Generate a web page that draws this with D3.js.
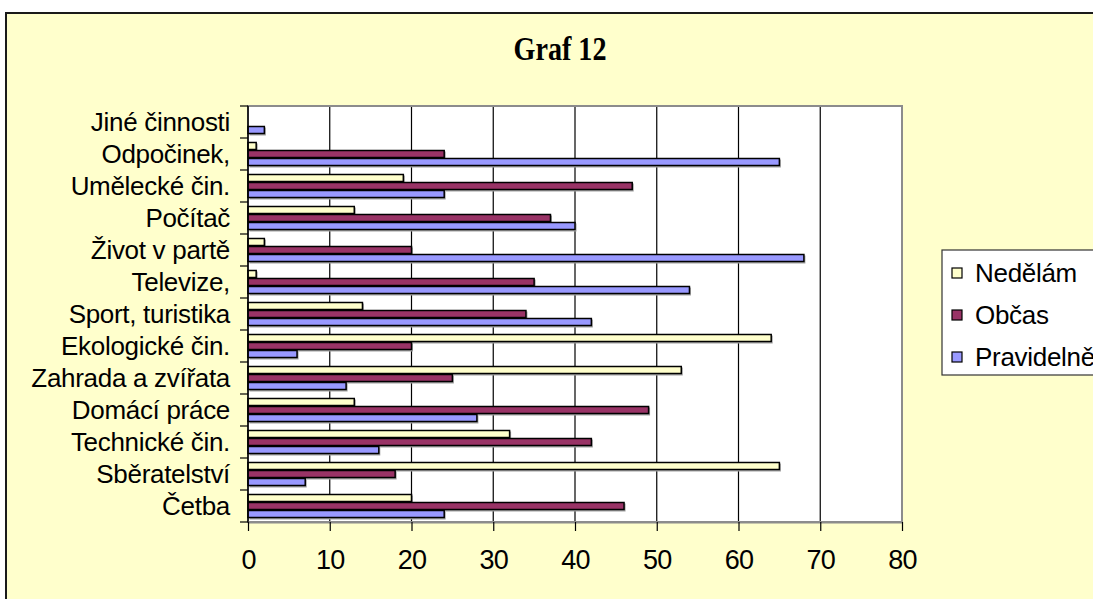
<!DOCTYPE html>
<html>
<head>
<meta charset="utf-8">
<script src="https://cdn.jsdelivr.net/npm/d3@7/dist/d3.min.js"></script>
<style>
  html, body { margin: 0; padding: 0; background: #ffffff; }
  svg { display: block; }
</style>
</head>
<body>
<svg id="chart" width="1093" height="599"></svg>
<script>
// ---- data (bottom-to-top order, as in the source spreadsheet) ----
const categories = ["Četba", "Sběratelství", "Technické čin.", "Domácí práce", "Zahrada a zvířata",
  "Ekologické čin.", "Sport, turistika", "Televize,", "Život v partě", "Počítač",
  "Umělecké čin.", "Odpočinek,", "Jiné činnosti"];
const seriesNames = ["Nedělám", "Občas", "Pravidelně"];
const nedelam    = [20, 65, 32, 13, 53, 64, 14, 1, 2, 13, 19, 1, 0];
const obcas      = [46, 18, 42, 49, 25, 20, 34, 35, 20, 37, 47, 24, 0];
const pravidelne = [24, 7, 16, 28, 12, 6, 42, 54, 68, 40, 24, 65, 2];
const xTicks = [0, 10, 20, 30, 40, 50, 60, 70, 80];
const title = "Graf 12";

const seriesValues = [nedelam, obcas, pravidelne];
const colors = ["#FFFFCC", "#993366", "#9999FF"];

const svg = d3.select("#chart");
const W = 1093, H = 599;
const plot = { left: 248, right: 902, top: 106, bottom: 522 };
const FONT = "'Liberation Sans', Arial, sans-serif";

// chart area background + border
svg.append("rect").attr("x", 6).attr("y", 13).attr("width", W + 20).attr("height", H + 20)
  .attr("fill", "#FFFFCC").attr("stroke", "#1a1a1a").attr("stroke-width", 2);

// title
svg.append("text").attr("x", 560).attr("y", 60).attr("text-anchor", "middle")
  .attr("font-family", "'Liberation Serif', 'Times New Roman', serif")
  .attr("font-weight", "bold").attr("font-size", 33)
  .attr("textLength", 93).attr("lengthAdjust", "spacingAndGlyphs")
  .attr("fill", "#000").text(title);

// scales
const x = d3.scaleLinear().domain([0, 80]).range([plot.left, plot.right]);
const y = d3.scaleBand().domain(categories.slice().reverse()).range([plot.top, plot.bottom]).padding(0);
const y1 = d3.scaleBand().domain(seriesNames).range([0, y.bandwidth()]).paddingInner(0).paddingOuter(0.5);

// plot background
svg.append("rect").attr("x", plot.left).attr("y", plot.top)
  .attr("width", plot.right - plot.left).attr("height", plot.bottom - plot.top)
  .attr("fill", "#ffffff");

// gridlines
svg.append("g").selectAll("line").data(xTicks.filter(t => t > 0 && t < 80)).join("line")
  .attr("x1", d => x(d)).attr("x2", d => x(d))
  .attr("y1", plot.top).attr("y2", plot.bottom)
  .attr("stroke", "#000").attr("stroke-width", 1.2);

// plot border (grey)
svg.append("rect").attr("x", plot.left).attr("y", plot.top)
  .attr("width", plot.right - plot.left).attr("height", plot.bottom - plot.top)
  .attr("fill", "none").attr("stroke", "#8c8c8c").attr("stroke-width", 2);

// bars
const rows = categories.map((c, i) => ({ cat: c, vals: seriesValues.map((s, k) => ({ name: seriesNames[k], v: s[i], k })) }));
const groups = svg.append("g").selectAll("g").data(rows).join("g")
  .attr("transform", d => `translate(0,${y(d.cat)})`);

groups.selectAll("rect.shadow").data(d => d.vals.filter(v => v.v > 0)).join("rect")
  .attr("class", "shadow")
  .attr("x", x(0) + 1.5).attr("y", d => y1(d.name) + 1.5)
  .attr("width", d => x(d.v) - x(0)).attr("height", y1.bandwidth())
  .attr("fill", "#a0a0a0");

groups.selectAll("rect.bar").data(d => d.vals.filter(v => v.v > 0)).join("rect")
  .attr("class", "bar")
  .attr("x", x(0)).attr("y", d => y1(d.name) + 0.5)
  .attr("width", d => x(d.v) - x(0)).attr("height", y1.bandwidth() - 1)
  .attr("fill", d => colors[d.k]).attr("stroke", "#000").attr("stroke-width", 1.5);

// y axis line + ticks between categories
svg.append("line").attr("x1", plot.left).attr("x2", plot.left)
  .attr("y1", plot.top).attr("y2", plot.bottom).attr("stroke", "#000").attr("stroke-width", 1.5);
const edges = categories.map(c => y(c)).concat([plot.bottom]);
svg.append("g").selectAll("line").data(edges).join("line")
  .attr("x1", plot.left - 8).attr("x2", plot.left)
  .attr("y1", d => d).attr("y2", d => d)
  .attr("stroke", "#000").attr("stroke-width", 1.2);

// category labels
svg.append("g").selectAll("text").data(categories).join("text")
  .attr("x", 230).attr("y", d => y(d) + y.bandwidth() / 2)
  .attr("dy", "0.36em").attr("text-anchor", "end")
  .attr("font-family", FONT).attr("font-size", 26).attr("letter-spacing", -0.3)
  .attr("fill", "#000").text(d => d);

// x axis
const xAxis = d3.axisBottom(x).tickValues(xTicks).tickSize(9).tickPadding(19).tickSizeOuter(0);
const gx = svg.append("g").attr("transform", `translate(0,${plot.bottom})`).call(xAxis);
gx.select(".domain").attr("stroke", "#8c8c8c").attr("stroke-width", 2);
gx.selectAll(".tick line").attr("stroke", "#000").attr("stroke-width", 1.2);
gx.selectAll(".tick text").attr("font-family", FONT).attr("font-size", 27)
  .attr("letter-spacing", -0.8).attr("fill", "#000");

// legend
const lg = svg.append("g");
lg.append("rect").attr("x", 942).attr("y", 250).attr("width", 200).attr("height", 125)
  .attr("fill", "#ffffff").attr("stroke", "#333").attr("stroke-width", 1.2);
const legendY = d3.scalePoint().domain(seriesNames).range([273, 357]);
const items = lg.selectAll("g").data(seriesNames).join("g")
  .attr("transform", d => `translate(0,${legendY(d)})`);
items.append("rect").attr("x", 952).attr("y", -5).attr("width", 10).attr("height", 10)
  .attr("fill", (d, i) => colors[i]).attr("stroke", "#000").attr("stroke-width", 1.2);
items.append("text").attr("x", 975).attr("dy", "0.36em")
  .attr("font-family", FONT).attr("font-size", 26).attr("letter-spacing", -0.3)
  .attr("fill", "#000").text(d => d);
</script>
</body>
</html>
